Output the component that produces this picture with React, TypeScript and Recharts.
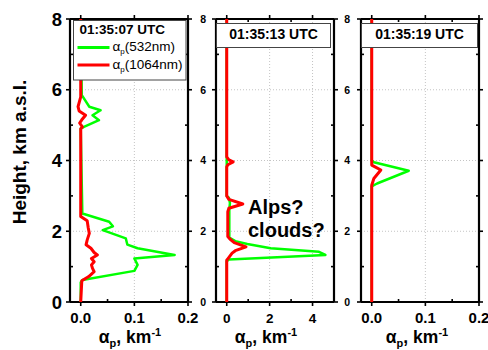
import React from 'react';
import { ScatterChart, Scatter, XAxis, YAxis, CartesianGrid } from 'recharts';

const FONT = "'Liberation Sans', Arial, Helvetica, sans-serif";

// Height axis (km a.s.l.)
const heightTicks = [0, 1, 2, 3, 4, 5, 6, 7, 8];
const heightGrid = [2, 4, 6];

// Extinction axes (km^-1)
const smallTicks = [0, 0.05, 0.1, 0.15, 0.2];
const smallGrid = [0.1];
const bigTicks = [0, 1, 2, 3, 4, 5];
const bigGrid = [2, 4];

// Panel 1 — 01:35:07 UTC
const p1GreenH = [8, 5.85, 5.52, 5.42, 5.28, 5.14, 4.95, 4.9, 2.5, 2.27, 2.14, 2.03, 1.8, 1.74, 1.62, 1.52, 1.33, 1.23, 1.05, 0.88, 0.62, 0.55, 0];
const p1GreenV = [0, 0.002, 0.016, 0.037, 0.022, 0.034, 0.006, 0, 0.003, 0.053, 0.06, 0.041, 0.084, 0.085, 0.087, 0.106, 0.175, 0.1, 0.106, 0.1, 0.003, 0, 0];
const p1RedH = [8, 5.8, 5.52, 5.4, 5.28, 5.15, 5.06, 4.95, 4.9, 2.42, 2.3, 2.1, 1.94, 1.75, 1.62, 1.52, 1.4, 1.33, 1.23, 1.14, 1.05, 0.95, 0.86, 0.72, 0.6, 0];
const p1RedV = [0, 0, -0.005, -0.003, 0.009, 0.002, -0.002, 0.003, 0, 0, 0.012, 0.014, 0.016, 0.012, 0.01, 0.019, 0.025, 0.031, 0.02, 0.025, 0.02, 0.022, 0.025, 0.015, 0.002, 0];

// Panel 2 — 01:35:13 UTC
const p2GreenH = [8, 3.0, 2.95, 2.8, 2.6, 1.82, 1.72, 1.64, 1.52, 1.42, 1.33, 1.2, 1.15, 0];
const p2GreenV = [0, 0, 0.1, 0.15, 0.12, 0.12, 0.4, 0.96, 2.05, 4.3, 4.6, 0.1, 0, 0];
const p2RedH = [8, 4.1, 4.02, 3.96, 3.88, 3.82, 3.0, 2.9, 2.77, 2.65, 2.55, 2.2, 1.85, 1.78, 1.68, 1.56, 1.45, 1.38, 1.22, 1.18, 0];
const p2RedV = [0, 0, 0.1, 0.3, 0.05, 0, 0, 0.1, 0.75, 0.1, 0.05, 0.05, 0.05, 0.15, 0.35, 0.9, 0.4, 0.25, 0.05, 0, 0];

// Panel 3 — 01:35:19 UTC
const p3GreenH = [8, 4.0, 3.95, 3.71, 3.35, 3.27, 0];
const p3GreenV = [0, 0, 0.004, 0.069, 0.01, 0, 0];
const p3RedH = [8, 3.87, 3.73, 3.49, 3.3, 0];
const p3RedV = [0, 0, 0.017, 0.004, 0, 0];

const GREEN = '#00ff00';
const RED = '#ff0000';

type Pt = { x: number; y: number };
const zip = (h: number[], v: number[]): Pt[] => h.map((hh, i) => ({ x: v[i], y: hh }));

const isMajor = (v: number, step: number) => Math.abs(v / step - Math.round(v / step)) < 1e-6;

const noShape = () => <g />;

type PanelProps = {
  left: number;
  width: number;
  margin: { top: number; right: number; bottom: number; left: number };
  yWidth: number;
  xDomain: [number, number];
  xTicks: number[];
  xStep: number;
  xFmt: (v: number) => string;
  xFont: number;
  yFont: number;
  yGap: number;
  gridX: number[];
  green: Pt[];
  red: Pt[];
};

function Panel(p: PanelProps) {
  const axisLine = { stroke: '#000', strokeWidth: 2.2 };

  const bottomTick = (t: any) => {
    const { x, y, payload } = t;
    const v = payload.value as number;
    const maj = isMajor(v, p.xStep);
    return (
      <g>
        <line x1={x} y1={y} x2={x} y2={maj ? y + 4 : y - 3} stroke="#000" strokeWidth={1.6} />
        {maj && (
          <text x={x} y={y + 21} textAnchor="middle" fontFamily={FONT} fontWeight="bold" fontSize={p.xFont} fill="#000">
            {p.xFmt(v)}
          </text>
        )}
      </g>
    );
  };
  const topTick = (t: any) => {
    const { x, y, payload } = t;
    const v = payload.value as number;
    const maj = isMajor(v, p.xStep);
    return <line x1={x} y1={y} x2={x} y2={maj ? y - 4 : y + 3} stroke="#000" strokeWidth={1.6} />;
  };
  const leftTick = (t: any) => {
    const { x, y, payload } = t;
    const v = payload.value as number;
    const maj = isMajor(v, 2);
    return (
      <g>
        <line x1={x} y1={y} x2={maj ? x - 4 : x + 3} y2={y} stroke="#000" strokeWidth={1.6} />
        {maj && (
          <text x={x - p.yGap} y={y} dy="0.36em" textAnchor="end" fontFamily={FONT} fontWeight="bold" fontSize={p.yFont} fill="#000">
            {v}
          </text>
        )}
      </g>
    );
  };
  const rightTick = (t: any) => {
    const { x, y, payload } = t;
    const v = payload.value as number;
    const maj = isMajor(v, 2);
    return <line x1={x} y1={y} x2={maj ? x + 4 : x - 3} y2={y} stroke="#000" strokeWidth={1.6} />;
  };

  return (
    <div style={{ position: 'absolute', left: p.left, top: 0, width: p.width, height: 350 }}>
      <ScatterChart width={p.width} height={350} margin={p.margin} style={{ overflow: 'visible' }}>
        <CartesianGrid
          horizontalValues={heightGrid}
          verticalValues={p.gridX}
          stroke="#c4c4c4"
          strokeDasharray="1 2"
        />
        <XAxis
          xAxisId={0}
          type="number"
          dataKey="x"
          domain={p.xDomain}
          ticks={p.xTicks}
          interval={0}
          allowDataOverflow
          height={20}
          tickSize={0}
          tickMargin={0}
          tickLine={false}
          axisLine={axisLine}
          tick={bottomTick}
        />
        <XAxis
          xAxisId="top"
          orientation="top"
          type="number"
          dataKey="x"
          domain={p.xDomain}
          ticks={p.xTicks}
          interval={0}
          allowDataOverflow
          height={2}
          tickSize={0}
          tickMargin={0}
          tickLine={false}
          axisLine={axisLine}
          tick={topTick}
        />
        <YAxis
          yAxisId={0}
          type="number"
          dataKey="y"
          domain={[0, 8]}
          ticks={heightTicks}
          interval={0}
          allowDataOverflow
          width={p.yWidth}
          tickSize={0}
          tickMargin={0}
          tickLine={false}
          axisLine={axisLine}
          tick={leftTick}
        />
        <YAxis
          yAxisId="right"
          orientation="right"
          type="number"
          dataKey="y"
          domain={[0, 8]}
          ticks={heightTicks}
          interval={0}
          allowDataOverflow
          width={2}
          tickSize={0}
          tickMargin={0}
          tickLine={false}
          axisLine={axisLine}
          tick={rightTick}
        />
        <Scatter
          data={p.green}
          fill={GREEN}
          line={{ stroke: GREEN, strokeWidth: 2.5, strokeLinejoin: 'round' }}
          lineType="joint"
          shape={noShape}
          isAnimationActive={false}
        />
        <Scatter
          data={p.red}
          fill={RED}
          line={{ stroke: RED, strokeWidth: 3, strokeLinejoin: 'round' }}
          lineType="joint"
          shape={noShape}
          isAnimationActive={false}
        />
      </ScatterChart>
    </div>
  );
}

const fmt1 = (v: number) => v.toFixed(1);
const fmt0 = (v: number) => String(v);

function XLabel({ cx }: { cx: number }) {
  return (
    <text x={cx} y={343} textAnchor="middle" fontFamily={FONT} fontWeight="bold" fontSize={17.5} fill="#000">
      α<tspan dy={4} fontSize={11}>p</tspan>
      <tspan dy={-4}>, km</tspan>
      <tspan dy={-7} fontSize={11}>-1</tspan>
    </text>
  );
}

export default function App() {
  return (
    <div style={{ position: 'absolute', left: 0, top: 0, width: 488, height: 350, background: '#fff', overflow: 'hidden' }}>
      <Panel
        left={0}
        width={200}
        margin={{ top: 17, right: 10, bottom: 28, left: 30 }}
        yWidth={40}
        xDomain={[-0.02, 0.2]}
        xTicks={smallTicks}
        xStep={0.1}
        xFmt={fmt1}
        xFont={15}
        yFont={18.5}
        yGap={8}
        gridX={smallGrid}
        green={zip(p1GreenH, p1GreenV)}
        red={zip(p1RedH, p1RedV)}
      />
      <Panel
        left={190}
        width={160}
        margin={{ top: 17, right: 14, bottom: 28, left: 10 }}
        yWidth={16}
        xDomain={[-0.5, 5]}
        xTicks={bigTicks}
        xStep={2}
        xFmt={fmt0}
        xFont={13.5}
        yFont={10.5}
        yGap={10}
        gridX={bigGrid}
        green={zip(p2GreenH, p2GreenV)}
        red={zip(p2RedH, p2RedV)}
      />
      <Panel
        left={340}
        width={148}
        margin={{ top: 17, right: 7, bottom: 28, left: 5 }}
        yWidth={16}
        xDomain={[-0.02, 0.2]}
        xTicks={smallTicks}
        xStep={0.1}
        xFmt={fmt1}
        xFont={15}
        yFont={10.5}
        yGap={11}
        gridX={smallGrid}
        green={zip(p3GreenH, p3GreenV)}
        red={zip(p3RedH, p3RedV)}
      />
      <svg width={488} height={350} style={{ position: 'absolute', left: 0, top: 0, pointerEvents: 'none' }}>
        <text transform="translate(26,152) rotate(-90)" textAnchor="middle" fontFamily={FONT} fontWeight="bold" fontSize={19} fill="#000">
          Height, km a.s.l.
        </text>
        <XLabel cx={130} />
        <XLabel cx={266} />
        <XLabel cx={417} />

        {/* Panel 1 legend */}
        <rect x={73.5} y={20.5} width={112.5} height={59.5} fill="#fff" stroke="#444" strokeWidth={1} />
        <text x={79.5} y={33.5} fontFamily={FONT} fontWeight="bold" fontSize={13.5} fill="#000">01:35:07 UTC</text>
        <line x1={77.5} y1={47.5} x2={109.5} y2={47.5} stroke={GREEN} strokeWidth={3} />
        <text x={112.5} y={51} fontFamily={FONT} fontSize={13.5} fill="#000">
          α<tspan dy={3} fontSize={8}>p</tspan>
          <tspan dy={-3}>(532nm)</tspan>
        </text>
        <line x1={77.5} y1={65} x2={109.5} y2={65} stroke={RED} strokeWidth={3} />
        <text x={112.5} y={68.5} fontFamily={FONT} fontSize={13.5} fill="#000">
          α<tspan dy={3} fontSize={8}>p</tspan>
          <tspan dy={-3}>(1064nm)</tspan>
        </text>

        {/* Panel 2 title */}
        <rect x={216.5} y={23.5} width={114} height={24} fill="#fff" stroke="#444" strokeWidth={1} />
        <text x={273.5} y={39} textAnchor="middle" fontFamily={FONT} fontWeight="bold" fontSize={14} fill="#000">01:35:13 UTC</text>

        {/* Panel 3 title */}
        <rect x={361.5} y={23.5} width={116} height={24} fill="#fff" stroke="#444" strokeWidth={1} />
        <text x={419.5} y={39} textAnchor="middle" fontFamily={FONT} fontWeight="bold" fontSize={14} fill="#000">01:35:19 UTC</text>

        {/* Annotation */}
        <text x={248} y={214} fontFamily={FONT} fontWeight="bold" fontSize={20} fill="#000">Alps?</text>
        <text x={248} y={237} fontFamily={FONT} fontWeight="bold" fontSize={20} fill="#000">clouds?</text>
      </svg>
    </div>
  );
}
